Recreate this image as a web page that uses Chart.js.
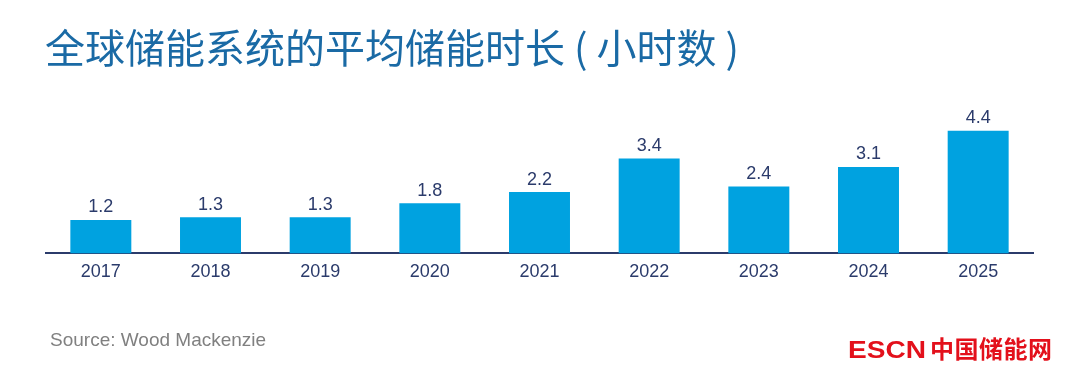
<!DOCTYPE html>
<html>
<head>
<meta charset="utf-8">
<script src="https://cdn.jsdelivr.net/npm/chart.js@4/dist/chart.umd.min.js"></script>
<style>
  html, body { margin: 0; padding: 0; background: #ffffff; }
  body { width: 1080px; height: 375px; position: relative; overflow: hidden; }
  #wrap { position: absolute; left: 0; top: 0; width: 1080px; height: 375px; }
  #title { position: absolute; left: 45px; top: 26px; font-family: "Noto Sans CJK SC", sans-serif; font-size: 40px; line-height: 40px; color: #1a6aa5; white-space: nowrap; }
  #source { position: absolute; left: 50px; top: 328px; font-family: "Liberation Sans", Arial, sans-serif; font-size: 19px; line-height: 24px; color: #808080; white-space: nowrap; }
  #logo { position: absolute; left: 848px; top: 333px; white-space: nowrap; color: #e3101b; font-weight: bold; }
  #logo .en { display: inline-block; font-family: "Liberation Sans", Arial, sans-serif; font-size: 23px; line-height: 30px; transform: scaleX(1.22); transform-origin: left center; width: 82px; }
  #logo .cn { display: inline-block; font-family: "Noto Sans CJK SC", sans-serif; font-size: 24px; line-height: 30px; letter-spacing: 0.5px; }
</style>
</head>
<body>
<div id="wrap"><canvas id="c" width="1080" height="375"></canvas></div>
<div id="title">全球储能系统的平均储能时长 ( 小时数 )</div>
<div id="source">Source: Wood Mackenzie</div>
<div id="logo"><span class="en">ESCN</span><span class="cn">中国储能网</span></div>
<script>
const categories = ["2017", "2018", "2019", "2020", "2021", "2022", "2023", "2024", "2025"];
const avgDurationHours = [1.2, 1.3, 1.3, 1.8, 2.2, 3.4, 2.4, 3.1, 4.4];
const valueLabels = ["1.2", "1.3", "1.3", "1.8", "2.2", "3.4", "2.4", "3.1", "4.4"];

const labelColor = "#2b3b6b";

const valueLabelPlugin = {
  id: "valueLabels",
  afterDatasetsDraw(chart) {
    const ctx = chart.ctx;
    const meta = chart.getDatasetMeta(0);
    ctx.save();
    ctx.font = "18px 'Liberation Sans', Arial, sans-serif";
    ctx.fillStyle = labelColor;
    ctx.textAlign = "center";
    ctx.textBaseline = "alphabetic";
    meta.data.forEach((bar, i) => {
      ctx.fillText(valueLabels[i], bar.x, bar.y - 7.5);
    });
    ctx.restore();
  }
};

new Chart(document.getElementById("c"), {
  type: "bar",
  data: {
    labels: categories,
    datasets: [{
      data: avgDurationHours,
      backgroundColor: "#00a2e0",
      borderWidth: 0,
      categoryPercentage: 1.0,
      barPercentage: 0.556
    }]
  },
  options: {
    responsive: false,
    animation: false,
    events: [],
    layout: { padding: { left: 46, right: 47, top: 114, bottom: 84 } },
    plugins: { legend: { display: false }, tooltip: { enabled: false }, title: { display: false } },
    scales: {
      x: {
        grid: { display: false, drawTicks: false, tickLength: 0 },
        border: { display: true, color: "#2b3b6b", width: 2 },
        ticks: { color: labelColor, font: { family: "'Liberation Sans', Arial, sans-serif", size: 18 }, padding: 8, maxRotation: 0 }
      },
      y: {
        display: false,
        min: 0,
        max: 5
      }
    }
  },
  plugins: [valueLabelPlugin]
});
</script>
</body>
</html>
